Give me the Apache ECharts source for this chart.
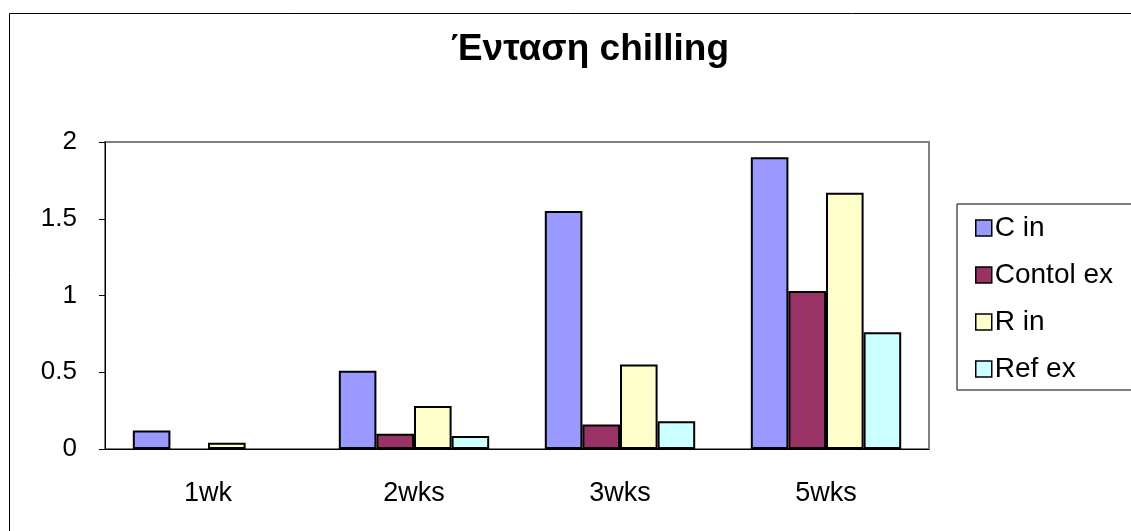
<!DOCTYPE html>
<html>
<head>
<meta charset="utf-8">
<script src="https://cdn.jsdelivr.net/npm/echarts@6/dist/echarts.min.js"></script>
<style>
  html, body { margin: 0; padding: 0; background: #fff; }
  #chart { width: 1131px; height: 531px; }
</style>
</head>
<body>
<div id="chart"></div>
<script>
// data
const categories = ['1wk', '2wks', '3wks', '5wks'];
const seriesNames = ['C in', 'Contol ex', 'R in', 'Ref ex'];
const cIn = [0.12, 0.51, 1.55, 1.9];
const controlEx = [null, 0.1, 0.16, 1.03];
const rIn = [0.04, 0.28, 0.55, 1.67];
const refEx = [null, 0.085, 0.18, 0.76];
const colors = ['#9999FF', '#993366', '#FFFFCC', '#CCFFFF'];

const font = 'Liberation Sans, Arial, sans-serif';
const chart = echarts.init(document.getElementById('chart'));

function bar(name, data, color) {
  return {
    name: name,
    type: 'bar',
    data: data,
    barGap: 0,
    barCategoryGap: '27%',
    itemStyle: { color: color, borderColor: '#000', borderWidth: 2 },
    emphasis: { disabled: true },
  };
}

chart.setOption({
  animation: false,
  textStyle: { fontFamily: font },
  graphic: [
    {
      type: 'rect',
      shape: { x: 9.5, y: 13.5, width: 1140, height: 540 },
      style: { fill: 'none', stroke: '#000', lineWidth: 1 },
      silent: true,
    },
  ],
  title: {
    text: 'Ένταση chilling',
    left: 446,
    top: 26,
    textStyle: { fontFamily: font, fontSize: 37, fontWeight: 'bold', color: '#000' },
  },
  legend: {
    orient: 'vertical',
    left: 957,
    top: 204,
    data: seriesNames,
    icon: 'rect',
    itemWidth: 16,
    itemHeight: 16,
    itemGap: 19,
    padding: [10, 80, 7, 18],
    borderColor: '#000',
    borderWidth: 1,
    textStyle: { fontFamily: font, fontSize: 28, lineHeight: 28, color: '#000', padding: [0, 0, 0, -2] },
    itemStyle: { borderColor: '#000', borderWidth: 1.5 },
  },
  grid: {
    left: 105,
    top: 142,
    width: 824,
    height: 307,
    show: true,
    borderColor: '#808080',
    borderWidth: 2,
  },
  xAxis: {
    type: 'category',
    data: categories,
    axisLine: { lineStyle: { color: '#000', width: 1 } },
    axisTick: { length: 7, lineStyle: { color: '#000' } },
    axisLabel: { fontFamily: font, fontSize: 27, color: '#000', margin: 31 },
  },
  yAxis: {
    type: 'value',
    min: 0,
    max: 2,
    interval: 0.5,
    splitLine: { show: false },
    axisLine: { show: true, lineStyle: { color: '#000', width: 1 } },
    axisTick: { show: true, length: 6, lineStyle: { color: '#000' } },
    axisLabel: { fontFamily: font, fontSize: 26, color: '#000', margin: 28 },
  },
  series: [
    bar(seriesNames[0], cIn, colors[0]),
    bar(seriesNames[1], controlEx, colors[1]),
    bar(seriesNames[2], rIn, colors[2]),
    bar(seriesNames[3], refEx, colors[3]),
  ],
});
</script>
</body>
</html>
